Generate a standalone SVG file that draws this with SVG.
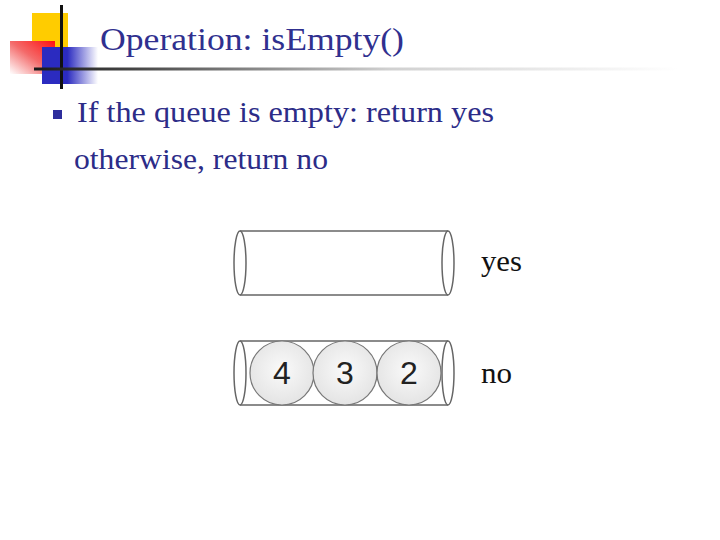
<svg xmlns="http://www.w3.org/2000/svg" width="720" height="540" viewBox="0 0 720 540">
<defs>
<linearGradient id="red" x1="1" y1="0" x2="0" y2="1">
<stop offset="0" stop-color="#ff1010"/>
<stop offset="0.5" stop-color="#f46a6a"/>
<stop offset="1" stop-color="#ffffff"/>
</linearGradient>
<linearGradient id="blue" x1="0" y1="0" x2="1" y2="0">
<stop offset="0" stop-color="#2b2bc0"/>
<stop offset="0.45" stop-color="#2b2bc0"/>
<stop offset="1" stop-color="#ffffff"/>
</linearGradient>
<linearGradient id="rule" x1="0" y1="0" x2="1" y2="0">
<stop offset="0" stop-color="#1a1a1a"/>
<stop offset="0.15" stop-color="#444"/>
<stop offset="0.55" stop-color="#d0d0d0"/>
<stop offset="1" stop-color="#ffffff"/>
</linearGradient>
<radialGradient id="ball" cx="0.5" cy="0.45" r="0.55">
<stop offset="0" stop-color="#fafafa"/>
<stop offset="1" stop-color="#e4e4e4"/>
</radialGradient>
</defs>
<style>
.title{font-family:"Liberation Serif",serif;font-size:31px;fill:#30308f}
.body{font-family:"Liberation Serif",serif;font-size:29px;fill:#2c2c88}
.lbl{font-family:"Liberation Serif",serif;font-size:29px;fill:#111}
.num{font-family:"Liberation Sans",sans-serif;font-size:32px;fill:#222;text-anchor:middle}
.cyl{fill:none;stroke:#666;stroke-width:1.5}
.end{fill:#fff;stroke:#666;stroke-width:1.5}
.ball{fill:url(#ball);stroke:#777;stroke-width:1.2}
</style>
<g id="logo">
<rect x="32" y="13" width="36" height="34" fill="#ffcc00"/>
<rect x="10" y="41" width="45" height="33" fill="url(#red)"/>
<rect x="42" y="47" width="56" height="37" fill="url(#blue)"/>
<rect x="60" y="5" width="3" height="84" fill="#111"/>
<rect x="34" y="67.5" width="644" height="3" fill="url(#rule)"/>
</g>
<g id="title"><text class="title" x="100" y="50" textLength="304" lengthAdjust="spacingAndGlyphs">Operation: isEmpty()</text></g>
<g id="bullet">
<rect x="53" y="110" width="9" height="9" fill="#2e2e9c"/>
<text class="body" x="77" y="122" textLength="417" lengthAdjust="spacingAndGlyphs">If the queue is empty: return yes</text>
<text class="body" x="74" y="169" textLength="254" lengthAdjust="spacingAndGlyphs">otherwise, return no</text>
</g>
<g id="queue-empty">
<path class="cyl" d="M240 231 H448 M240 295 H448"/>
<ellipse class="end" cx="448" cy="263" rx="6" ry="32"/>
<ellipse class="end" cx="240" cy="263" rx="6" ry="32"/>
<text class="lbl" x="481" y="271" textLength="41" lengthAdjust="spacingAndGlyphs">yes</text>
</g>
<g id="queue-full">
<path class="cyl" d="M240 341 H448 M240 405 H448"/>
<ellipse class="end" cx="448" cy="373" rx="6" ry="32"/>
<g id="ball4"><circle class="ball" cx="282" cy="373" r="32"/><text class="num" x="282" y="384">4</text></g>
<g id="ball3"><circle class="ball" cx="345" cy="373" r="32"/><text class="num" x="345" y="384">3</text></g>
<g id="ball2"><circle class="ball" cx="409" cy="373" r="32"/><text class="num" x="409" y="384">2</text></g>
<ellipse class="end" cx="240" cy="373" rx="6" ry="32"/>
<text class="lbl" x="481" y="383" textLength="31" lengthAdjust="spacingAndGlyphs">no</text>
</g>
</svg>
